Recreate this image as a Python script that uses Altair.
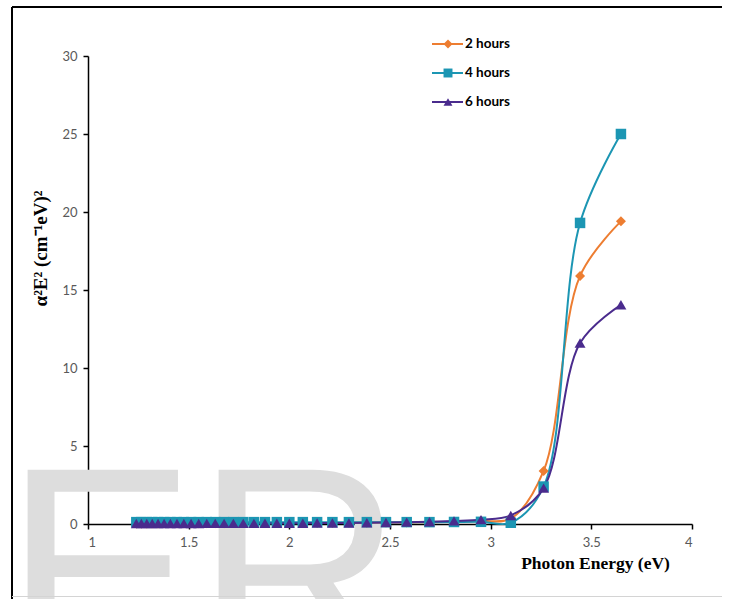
import altair as alt
import pandas as pd

# Photon energy (eV) of each measurement
energy = [1.240, 1.265, 1.292, 1.319, 1.348, 1.378, 1.409, 1.442, 1.476, 1.512,
          1.550, 1.590, 1.632, 1.676, 1.722, 1.771, 1.824, 1.879, 1.938, 2.000,
          2.067, 2.138, 2.214, 2.296, 2.385, 2.480, 2.583, 2.696, 2.818, 2.952,
          3.100, 3.263, 3.444, 3.647]

# (alpha*E)^2 for each deposition time
h2 = [0.04, 0.04, 0.04, 0.04, 0.04, 0.05, 0.05, 0.05, 0.05, 0.05,
      0.05, 0.05, 0.05, 0.05, 0.06, 0.06, 0.06, 0.06, 0.06, 0.06,
      0.07, 0.07, 0.07, 0.08, 0.08, 0.09, 0.10, 0.12, 0.15, 0.20,
      0.35, 3.40, 15.90, 19.40]
h4 = [0.12, 0.12, 0.12, 0.12, 0.12, 0.12, 0.12, 0.12, 0.12, 0.12,
      0.12, 0.12, 0.12, 0.12, 0.12, 0.12, 0.12, 0.12, 0.12, 0.12,
      0.12, 0.12, 0.12, 0.12, 0.12, 0.12, 0.12, 0.12, 0.13, 0.14,
      0.08, 2.40, 19.30, 25.00]
h6 = [0.03, 0.03, 0.03, 0.03, 0.03, 0.03, 0.03, 0.03, 0.03, 0.03,
      0.03, 0.04, 0.04, 0.04, 0.04, 0.04, 0.04, 0.05, 0.05, 0.05,
      0.05, 0.06, 0.06, 0.07, 0.08, 0.10, 0.12, 0.15, 0.20, 0.28,
      0.55, 2.30, 11.60, 14.05]

series_names = ["2 hours", "4 hours", "6 hours"]
series_colors = ["#ED7D31", "#1C96B3", "#4A2B8D"]
series_shapes = ["diamond", "square", "triangle-up"]
series_sizes = [100, 120, 140]

rows = []
for name, vals in zip(series_names, [h2, h4, h6]):
    for e, v in zip(energy, vals):
        rows.append({"energy": e, "value": v, "series": name})
df = pd.DataFrame(rows)

W, H = 604, 468
L, T = 88, 56

x_enc = alt.X(
    "energy:Q",
    scale=alt.Scale(domain=[1, 4], nice=False, zero=False),
    axis=alt.Axis(
        values=[1, 1.5, 2, 2.5, 3, 3.5, 4], format="~g", grid=False,
        title="Photon Energy (eV)", titleFont="Liberation Serif",
        titleFontWeight="bold", titleFontSize=17.5, titleColor="black",
        titleX=507, titleY=44, titleAlign="center", titleBaseline="alphabetic",
        labelFont="Lato", labelFontSize=13, labelColor="#595959", labelPadding=7,
        tickColor="black", tickSize=5, tickWidth=1.5,
        domainColor="black", domainWidth=1.5,
    ),
)
y_enc = alt.Y(
    "value:Q",
    scale=alt.Scale(domain=[0, 30], nice=False),
    axis=alt.Axis(
        values=[0, 5, 10, 15, 20, 25, 30], format="d", grid=False,
        title="α²E² (cm⁻¹eV)²", titleFont="Liberation Serif",
        titleFontWeight="bold", titleFontSize=19, titleColor="black",
        titleAngle=270, titleX=-48, titleY=192, titleAlign="center",
        titleBaseline="middle",
        labelFont="Lato", labelFontSize=13, labelColor="#595959", labelPadding=6,
        tickColor="black", tickSize=5, tickWidth=1.5,
        domainColor="black", domainWidth=1.5,
    ),
)
color_enc = alt.Color("series:N", scale=alt.Scale(domain=series_names, range=series_colors), legend=None)
shape_enc = alt.Shape("series:N", scale=alt.Scale(domain=series_names, range=series_shapes), legend=None)
size_enc = alt.Size("series:N", scale=alt.Scale(domain=series_names, range=series_sizes), legend=None)

one = pd.DataFrame({"k": [0]})

# Light background lettering behind the plot
watermark = [
    alt.Chart(one).mark_text(text=t, font="Liberation Sans", fontSize=288, color="#dddddd",
                             align="left", baseline="alphabetic")
    .encode(x=alt.value(px), y=alt.value(612))
    for t, px in [("E", -84), ("R", 107)]
]

# Outer frame
frame = [
    alt.Chart(one).mark_rule(color="black", strokeWidth=2)
    .encode(x=alt.value(-76), x2=alt.value(-76), y=alt.value(-49), y2=alt.value(545)),
    alt.Chart(one).mark_rule(color="black", strokeWidth=2)
    .encode(x=alt.value(-76), x2=alt.value(634), y=alt.value(-49)),
    alt.Chart(one).mark_rule(color="#d4d4d4", strokeWidth=1)
    .encode(x=alt.value(-76), x2=alt.value(634), y=alt.value(540.5)),
]

lines = alt.Chart(df).mark_line(interpolate="catmull-rom", strokeWidth=2).encode(
    x=x_enc, y=y_enc, color=color_enc, detail="series:N"
)
points = alt.Chart(df).mark_point(filled=True, opacity=1).encode(
    x=x_enc, y=y_enc, color=color_enc, shape=shape_enc, size=size_enc
)

# Legend drawn as line + marker + label
legend_layers = []
for i, (name, c, s) in enumerate(zip(series_names, series_colors, series_shapes)):
    ly = -12 + i * 29
    d = pd.DataFrame({"series": [name]})
    legend_layers.append(
        alt.Chart(d).mark_rule(color=c, strokeWidth=2)
        .encode(x=alt.value(344), x2=alt.value(375), y=alt.value(ly))
    )
    legend_layers.append(
        alt.Chart(d).mark_point(filled=True, opacity=1, shape=s, size=80, color=c)
        .encode(x=alt.value(360), y=alt.value(ly))
    )
    legend_layers.append(
        alt.Chart(d).mark_text(align="left", baseline="middle", font="Lato",
                               fontWeight="bold", fontSize=13.5, color="black")
        .encode(x=alt.value(377), y=alt.value(ly), text="series:N")
    )

chart = alt.layer(*watermark, *frame, lines, points, *legend_layers).properties(
    width=W, height=H,
    autosize=alt.AutoSizeParams(type="none"),
    padding={"left": L, "top": T, "right": 730 - L - W, "bottom": 599 - T - H},
    background="white",
).configure_view(stroke=None)

chart.save("out.html", embed_options={"renderer": "svg", "actions": False})
